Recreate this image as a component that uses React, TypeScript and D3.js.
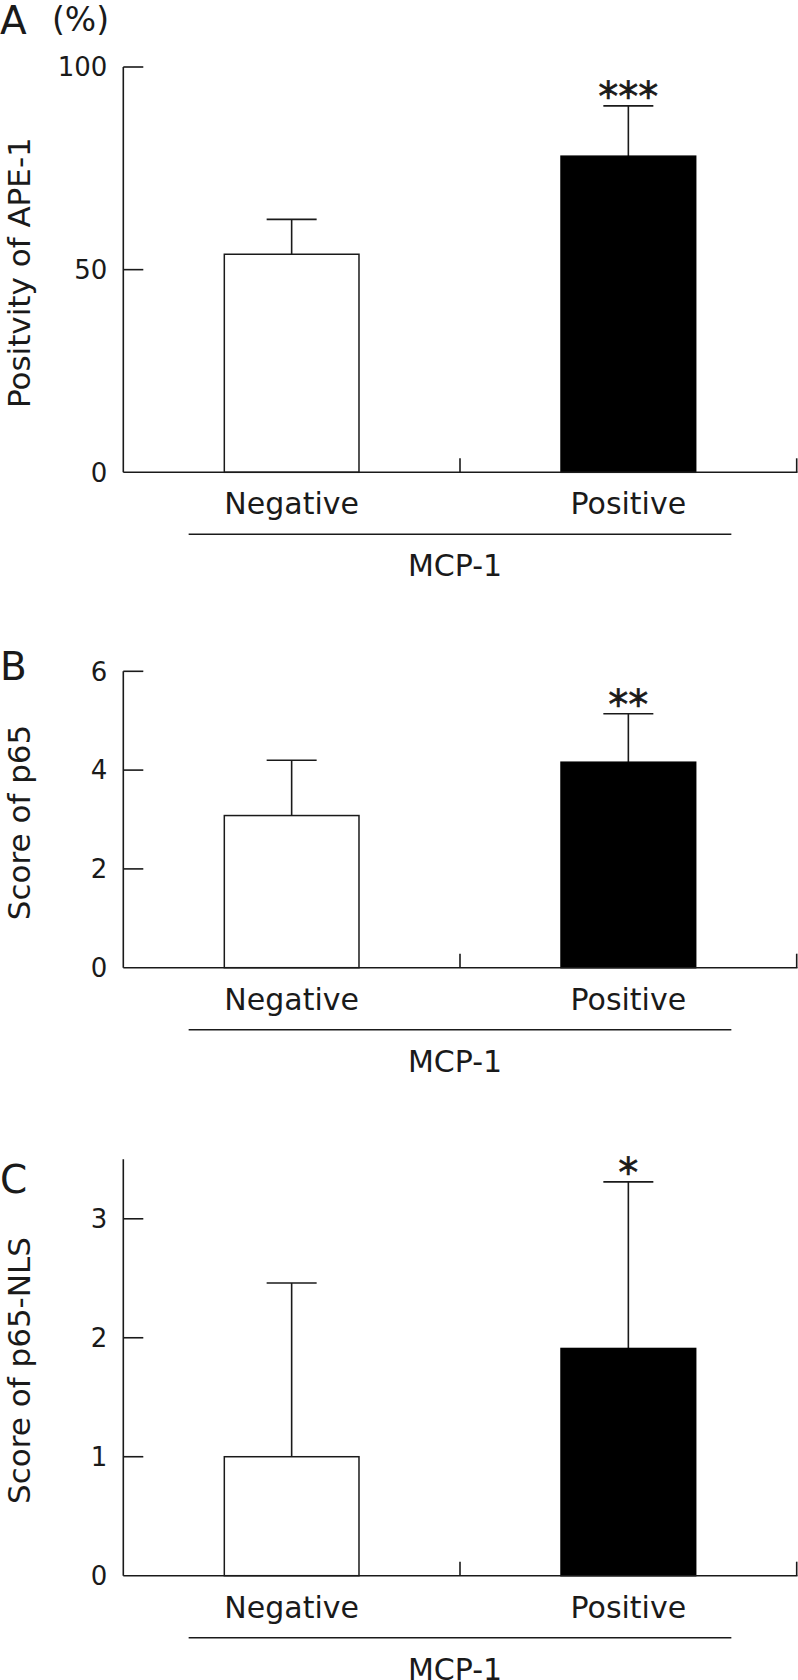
import React from "react";
import * as d3 from "d3";

const categories = ["Negative", "Positive"];
const groupLabel = "MCP-1";

const apeMeans = [53.8, 78.0];
const apeErr = [8.6, 12.4];
const apeTicks = [0, 50, 100];

const p65Means = [3.08, 4.16];
const p65Err = [1.12, 0.98];
const p65Ticks = [0, 2, 4, 6];

const nlsMeans = [1.0, 1.91];
const nlsErr = [1.46, 1.4];
const nlsTicks = [0, 1, 2, 3];

const stars = ["***", "**", "*"];
const panelLetters = ["A", "B", "C"];
const yTitles = ["Positvity of APE-1", "Score of p65", "Score of p65-NLS"];

const FONT = "'DejaVu Sans', Verdana, sans-serif";
const INK = "#1a1a1a";

type PanelProps = {
  letter: string;
  title: string;
  means: number[];
  errs: number[];
  ticks: number[];
  domainMax: number;
  y0: number;
  y1: number;
  star: string;
  unit?: string;
  letterY: number;
};

const AXIS_X = 123.3;
const RIGHT_X = 796.7;

function Panel({ letter, title, means, errs, ticks, domainMax, y0, y1, star, unit, letterY }: PanelProps) {
  const x = d3.scaleBand<string>().domain(categories).range([AXIS_X, RIGHT_X]).padding(0);
  const y = d3.scaleLinear().domain([0, domainMax]).range([y0, y1]);
  const bw = x.bandwidth() * 0.4;
  const capHalf = 25;
  const boundaries = categories.map((c) => (x(c) as number) + x.bandwidth());
  const centers = categories.map((c) => (x(c) as number) + x.bandwidth() / 2);
  const ulLeft = centers[0] - 103;
  const ulRight = centers[1] + 103;
  const titleCenter = (y0 + y1) / 2 + 3;
  return (
    <g>
      <text x={0} y={letterY} fontSize={39} fontFamily={FONT} fill={INK}>
        {letter}
      </text>
      {unit && (
        <text x={52} y={31} fontSize={33} fontFamily={FONT} fill={INK}>
          {unit}
        </text>
      )}
      <text
        transform={`translate(30,${titleCenter}) rotate(-90)`}
        textAnchor="middle"
        fontSize={31}
        fontFamily={FONT}
        fill={INK}
      >
        {title}
      </text>
      {categories.map((c, i) => {
        const cx = centers[i];
        const top = y(means[i]);
        const errTop = y(means[i] + errs[i]);
        return (
          <g key={c}>
            <line x1={cx} x2={cx} y1={top} y2={errTop} stroke={INK} strokeWidth={1.6} />
            <line x1={cx - capHalf} x2={cx + capHalf} y1={errTop} y2={errTop} stroke={INK} strokeWidth={1.6} />
            <rect
              x={cx - bw / 2}
              y={top}
              width={bw}
              height={y0 - top}
              fill={i === 0 ? "#fff" : "#000"}
              stroke={i === 0 ? INK : "#000"}
              strokeWidth={1.5}
            />
          </g>
        );
      })}
      <text
        x={centers[1]}
        y={y(means[1] + errs[1]) + 5}
        textAnchor="middle"
        fontSize={40}
        fontFamily={FONT}
        fill={INK}
        stroke={INK}
        strokeWidth={0.6}
      >
        {star}
      </text>
      <line x1={AXIS_X} x2={AXIS_X} y1={y0} y2={y1} stroke={INK} strokeWidth={1.6} />
      {ticks.map((t) => (
        <g key={t}>
          {t !== 0 && (
            <line x1={AXIS_X} x2={AXIS_X + 20} y1={y(t)} y2={y(t)} stroke={INK} strokeWidth={1.6} />
          )}
          <text
            x={AXIS_X - 16}
            y={y(t)}
            dy="0.36em"
            textAnchor="end"
            fontSize={26}
            fontFamily={FONT}
            fill={INK}
          >
            {t}
          </text>
        </g>
      ))}
      <line x1={AXIS_X} x2={RIGHT_X + 0.8} y1={y0} y2={y0} stroke={INK} strokeWidth={1.6} />
      {boundaries.map((b, i) => (
        <line key={i} x1={b} x2={b} y1={y0} y2={y0 - 14} stroke={INK} strokeWidth={1.6} />
      ))}
      {categories.map((c, i) => (
        <text
          key={c}
          x={centers[i]}
          y={y0 + 42}
          textAnchor="middle"
          fontSize={30}
          fontFamily={FONT}
          fill={INK}
        >
          {c}
        </text>
      ))}
      <line x1={ulLeft} x2={ulRight} y1={y0 + 62} y2={y0 + 62} stroke={INK} strokeWidth={1.5} />
      <text
        x={(ulLeft + ulRight) / 2 - 5}
        y={y0 + 104}
        textAnchor="middle"
        fontSize={30}
        fontFamily={FONT}
        fill={INK}
      >
        {groupLabel}
      </text>
    </g>
  );
}

export default function App() {
  return (
    <svg
      width={798}
      height={1680}
      viewBox="0 0 798 1680"
      style={{ position: "absolute", left: 0, top: 0, display: "block", background: "#fff" }}
    >
      <rect x={0} y={0} width={798} height={1680} fill="#fff" />
      <Panel
        letter={panelLetters[0]}
        title={yTitles[0]}
        means={apeMeans}
        errs={apeErr}
        ticks={apeTicks}
        domainMax={100}
        y0={472.3}
        y1={67}
        star={stars[0]}
        unit="(%)"
        letterY={34}
      />
      <Panel
        letter={panelLetters[1]}
        title={yTitles[1]}
        means={p65Means}
        errs={p65Err}
        ticks={p65Ticks}
        domainMax={6}
        y0={967.7}
        y1={671.3}
        star={stars[1]}
        letterY={680}
      />
      <Panel
        letter={panelLetters[2]}
        title={yTitles[2]}
        means={nlsMeans}
        errs={nlsErr}
        ticks={nlsTicks}
        domainMax={3.5}
        y0={1575.7}
        y1={1159.3}
        star={stars[2]}
        letterY={1193}
      />
    </svg>
  );
}
